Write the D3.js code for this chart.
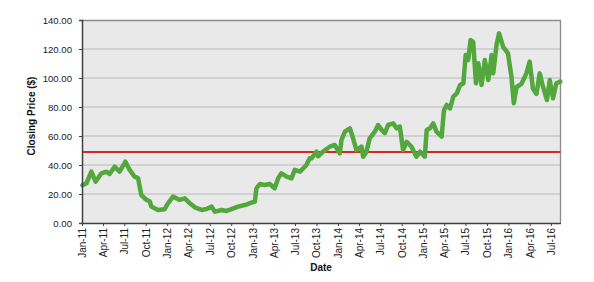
<!DOCTYPE html>
<html>
<head>
<meta charset="utf-8">
<script src="https://cdn.jsdelivr.net/npm/d3@7/dist/d3.min.js"></script>
<style>
  html, body { margin: 0; padding: 0; background: #ffffff; }
  svg { display: block; font-family: "Liberation Sans", Arial, sans-serif; }
</style>
</head>
<body>
<svg id="chart" width="594" height="282"></svg>
<script>
// ---- data ----
const dates = [
  "2011-01-03","2011-01-20","2011-02-10","2011-02-28","2011-03-25","2011-04-15","2011-04-29",
  "2011-05-21","2011-06-11","2011-07-06","2011-07-24","2011-08-14","2011-08-29","2011-09-12",
  "2011-10-04","2011-10-18","2011-10-25","2011-11-22","2011-12-21","2012-01-04","2012-01-26",
  "2012-02-23","2012-03-16","2012-04-07","2012-04-28","2012-05-27","2012-06-18","2012-07-09",
  "2012-07-23","2012-08-21","2012-09-11","2012-10-02","2012-10-30","2012-11-28","2012-12-27",
  "2013-01-10","2013-01-17","2013-02-01","2013-02-22","2013-03-15","2013-04-05","2013-04-20",
  "2013-05-04","2013-05-26","2013-06-16","2013-06-30","2013-07-22","2013-08-12","2013-08-19",
  "2013-09-02","2013-09-10","2013-10-01","2013-10-08","2013-10-29","2013-11-27","2013-12-18",
  "2014-01-09","2014-01-16","2014-01-31","2014-02-21","2014-03-07","2014-03-21","2014-04-12",
  "2014-04-19","2014-05-03","2014-05-17","2014-06-08","2014-06-22","2014-07-07","2014-07-21",
  "2014-08-04","2014-08-26","2014-09-09","2014-09-23","2014-10-07","2014-10-22","2014-11-12",
  "2014-12-03","2014-12-18","2015-01-08","2015-01-16","2015-01-30","2015-02-13","2015-02-27",
  "2015-03-21","2015-03-31","2015-04-12","2015-04-26","2015-05-10","2015-05-25","2015-06-08",
  "2015-06-22","2015-07-02","2015-07-13","2015-07-23","2015-08-03","2015-08-15","2015-08-25",
  "2015-09-08","2015-09-22","2015-10-07","2015-10-21","2015-10-28","2015-11-11","2015-11-22",
  "2015-12-09","2015-12-30","2016-01-14","2016-01-24","2016-02-05","2016-02-26","2016-03-18",
  "2016-04-01","2016-04-15","2016-04-30","2016-05-14","2016-05-28","2016-06-14","2016-06-26",
  "2016-07-10","2016-07-24","2016-08-10"
];
const prices = [
  26.0, 27.4, 35.4, 28.5, 34.3, 35.4, 33.8,
  38.8, 35.4, 42.3, 36.6, 32.0, 31.0, 19.3,
  15.9, 15.0, 11.3, 9.0, 9.5, 13.6, 18.2,
  15.9, 17.0, 13.6, 10.8, 9.0, 9.6, 11.3,
  7.8, 9.0, 8.3, 9.6, 11.3, 12.4, 14.0,
  14.7, 23.9, 26.9, 26.2, 26.9, 23.9, 30.8,
  34.3, 32.0, 30.8, 36.6, 35.4, 38.8, 40.0,
  44.6, 44.6, 49.2, 46.0, 49.2, 52.6, 53.8,
  48.0, 57.2, 63.0, 65.3, 58.4, 50.3, 52.6,
  45.7, 49.2, 58.4, 63.0, 67.6, 64.2, 62.0,
  67.6, 68.7, 65.3, 66.5, 50.3, 56.0, 52.6,
  45.7, 49.2, 45.7, 64.2, 65.3, 68.7, 63.0,
  59.5, 77.9, 81.4, 79.0, 87.1, 89.4, 95.2,
  96.3, 115.9, 112.4, 126.2, 125.0, 96.3, 110.1,
  95.2, 112.4, 98.6, 115.9, 103.2, 122.8, 130.8,
  121.6, 117.0, 100.9, 82.6, 93.8, 96.0, 103.2,
  111.3, 92.6, 89.0, 103.2, 94.0, 84.8, 98.6,
  86.0, 96.3, 97.5
];
const referenceLevel = [48.9];
const yTicks = [0, 20, 40, 60, 80, 100, 120, 140];
const xDomain = ["2011-01-01", "2016-08-11"];
const xTitle = "Date";
const yTitle = "Closing Price ($)";

// ---- layout ----
const svg = d3.select("#chart");
const m = { left: 82, top: 20, right: 33.5, bottom: 59 };
const W = 594 - m.left - m.right;
const H = 282 - m.top - m.bottom;
const parse = d3.timeParse("%Y-%m-%d");
const data = dates.map((d, i) => ({ date: parse(d), value: prices[i] }));

const x = d3.scaleTime().domain(xDomain.map(parse)).range([0, W]);
const y = d3.scaleLinear().domain([0, 140]).range([H, 0]);

const g = svg.append("g").attr("transform", `translate(${m.left},${m.top})`);

// plot background
g.append("rect").attr("x", 0).attr("y", 0).attr("width", W).attr("height", H)
  .attr("fill", "#e9e9e9");

// gridlines
g.append("g").selectAll("line").data(yTicks.filter(t => t > 0 && t < 140)).join("line")
  .attr("x1", 0).attr("x2", W)
  .attr("y1", d => y(d)).attr("y2", d => y(d))
  .attr("stroke", "#c9c9c9").attr("stroke-width", 1.3);

// top & right border
g.append("path")
  .attr("d", `M0,0.5H${W}V${H}`)
  .attr("fill", "none").attr("stroke", "#8c8c8c").attr("stroke-width", 1.3);

// reference line
g.append("line")
  .attr("x1", 0).attr("x2", W)
  .attr("y1", y(referenceLevel[0])).attr("y2", y(referenceLevel[0]))
  .attr("stroke", "#d42a23").attr("stroke-width", 2);

// price line
g.append("path").datum(data)
  .attr("fill", "none")
  .attr("stroke", "#52a83c")
  .attr("stroke-width", 4.5)
  .attr("stroke-linejoin", "round")
  .attr("stroke-linecap", "round")
  .attr("d", d3.line().x(d => x(d.date)).y(d => y(d.value)));

// y axis
const yAxis = g.append("g")
  .call(d3.axisLeft(y).tickValues(yTicks).tickFormat(d3.format(".2f")).tickSize(3).tickPadding(7));
yAxis.select(".domain").attr("stroke", "#404040").attr("stroke-width", 1.5);
yAxis.selectAll(".tick line").attr("stroke", "#404040");
yAxis.selectAll("text").attr("font-size", 9.6).attr("fill", "#222").attr("font-family", "Liberation Sans, Arial, sans-serif");

// x axis
const xAxis = g.append("g").attr("transform", `translate(0,${H})`)
  .call(d3.axisBottom(x).ticks(d3.timeMonth.every(3)).tickFormat(d3.timeFormat("%b-%y")).tickSize(3).tickSizeOuter(0));
xAxis.select(".domain").attr("stroke", "#404040").attr("stroke-width", 1.5);
xAxis.selectAll(".tick line").attr("stroke", "#404040");
xAxis.selectAll("text")
  .attr("font-size", 10).attr("fill", "#222").attr("font-family", "Liberation Sans, Arial, sans-serif")
  .attr("transform", "rotate(-90)")
  .attr("text-anchor", "end")
  .attr("x", -5).attr("y", 0).attr("dy", "0.35em");

// titles
svg.append("text")
  .attr("x", 321).attr("y", 271)
  .attr("text-anchor", "middle")
  .attr("font-size", 10).attr("font-weight", "bold").attr("fill", "#111")
  .text(xTitle);
svg.append("text")
  .attr("transform", "translate(34.5,116) rotate(-90)")
  .attr("text-anchor", "middle")
  .attr("font-size", 10).attr("font-weight", "bold").attr("fill", "#111")
  .text(yTitle);
</script>
</body>
</html>
